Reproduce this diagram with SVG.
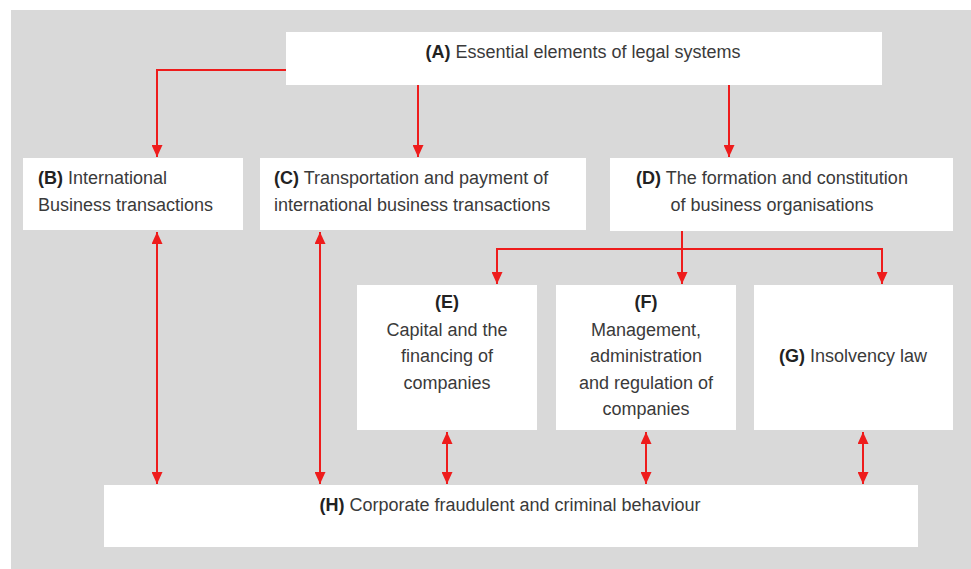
<svg xmlns="http://www.w3.org/2000/svg" width="971" height="569" viewBox="0 0 971 569">
<defs>
<marker id="ah" viewBox="0 0 10 10" refX="10" refY="5" markerWidth="12" markerHeight="11" markerUnits="userSpaceOnUse" orient="auto-start-reverse" preserveAspectRatio="none">
<path d="M0,0 L10,5 L0,10 z" fill="#ee1c1c"/>
</marker>
<style>
.box{fill:#ffffff}
.t{font-family:"Liberation Sans",Arial,sans-serif;font-size:18px;fill:#3a3a3a}
.b{font-weight:bold;fill:#222}
.c{text-anchor:middle}
.ln{stroke:#ee1c1c;stroke-width:2;fill:none}
</style>
</defs>
<rect x="11" y="10" width="960" height="559" fill="#d9d9d9"/>
<g id="connectors">
<path class="ln" d="M286,70 H157 V157" marker-end="url(#ah)"/>
<path class="ln" d="M418,85 V157" marker-end="url(#ah)"/>
<path class="ln" d="M729,85 V157" marker-end="url(#ah)"/>
<path class="ln" d="M682,231 V284" marker-end="url(#ah)"/>
<path class="ln" d="M682,249 H497 V284" marker-end="url(#ah)"/>
<path class="ln" d="M682,249 H882 V284" marker-end="url(#ah)"/>
<path class="ln" d="M157,232 V484" marker-start="url(#ah)" marker-end="url(#ah)"/>
<path class="ln" d="M320,232 V484" marker-start="url(#ah)" marker-end="url(#ah)"/>
<path class="ln" d="M447,432 V484" marker-start="url(#ah)" marker-end="url(#ah)"/>
<path class="ln" d="M646,432 V484" marker-start="url(#ah)" marker-end="url(#ah)"/>
<path class="ln" d="M863,432 V484" marker-start="url(#ah)" marker-end="url(#ah)"/>
</g>
<g id="A">
<rect class="box" x="286" y="32" width="596" height="53"/>
<text class="t c" x="583" y="58"><tspan class="b">(A)</tspan> Essential elements of legal systems</text>
</g>
<g id="B">
<rect class="box" x="23" y="158" width="220" height="72"/>
<text class="t" x="38" y="184"><tspan class="b">(B)</tspan> International</text>
<text class="t" x="38" y="211">Business transactions</text>
</g>
<g id="C">
<rect class="box" x="260" y="158" width="326" height="72"/>
<text class="t" x="274" y="184"><tspan class="b">(C)</tspan> Transportation and payment of</text>
<text class="t" x="274" y="211">international business transactions</text>
</g>
<g id="D">
<rect class="box" x="610" y="158" width="343" height="73"/>
<text class="t c" x="772" y="184"><tspan class="b">(D)</tspan> The formation and constitution</text>
<text class="t c" x="772" y="211">of business organisations</text>
</g>
<g id="E">
<rect class="box" x="357" y="285" width="180" height="145"/>
<text class="t c" x="447" y="308"><tspan class="b">(E)</tspan></text>
<text class="t c" x="447" y="336">Capital and the</text>
<text class="t c" x="447" y="362">financing of</text>
<text class="t c" x="447" y="389">companies</text>
</g>
<g id="F">
<rect class="box" x="556" y="285" width="180" height="145"/>
<text class="t c" x="646" y="308"><tspan class="b">(F)</tspan></text>
<text class="t c" x="646" y="336">Management,</text>
<text class="t c" x="646" y="362">administration</text>
<text class="t c" x="646" y="389">and regulation of</text>
<text class="t c" x="646" y="415">companies</text>
</g>
<g id="G">
<rect class="box" x="754" y="285" width="199" height="145"/>
<text class="t c" x="853" y="362"><tspan class="b">(G)</tspan> Insolvency law</text>
</g>
<g id="H">
<rect class="box" x="104" y="485" width="814" height="62"/>
<text class="t c" x="510" y="511"><tspan class="b">(H)</tspan> Corporate fraudulent and criminal behaviour</text>
</g>
</svg>
